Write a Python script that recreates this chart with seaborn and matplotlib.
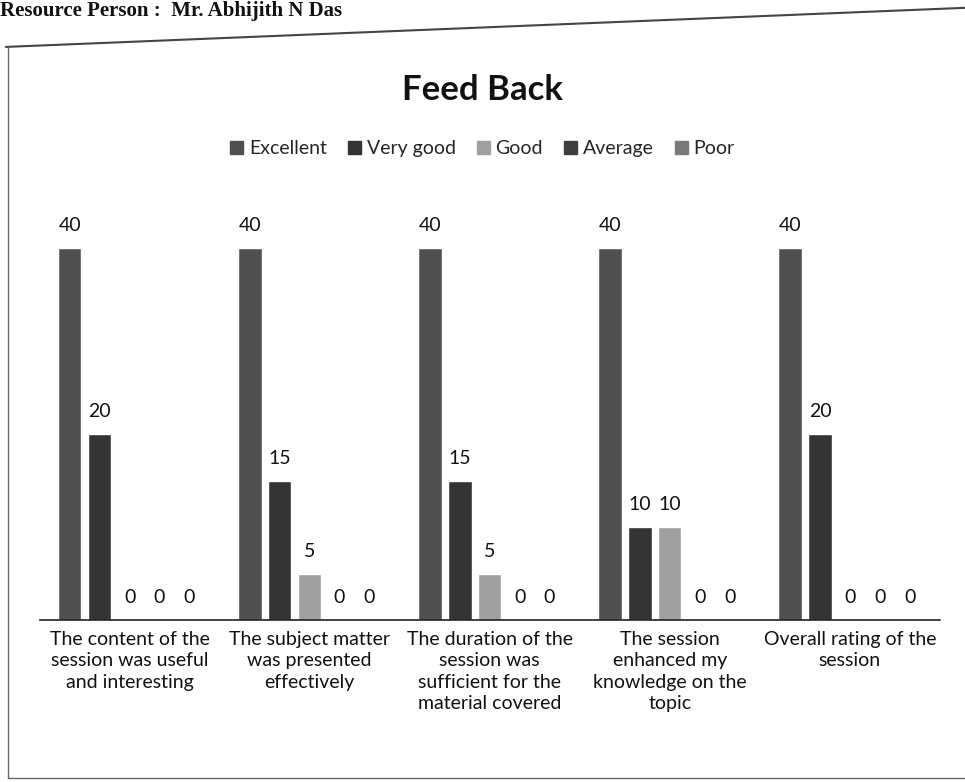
import matplotlib
matplotlib.use("Agg")
import matplotlib.pyplot as plt
from matplotlib.lines import Line2D
import pandas as pd
import seaborn as sns

# ---------------------------------------------------------------------
# Data
# ---------------------------------------------------------------------
categories = [
    "The content of the\nsession was useful\nand interesting",
    "The subject matter\nwas presented\neffectively",
    "The duration of the\nsession was\nsufficient for the\nmaterial covered",
    "The session\nenhanced my\nknowledge on the\ntopic",
    "Overall rating of the\nsession",
]
ratings = ["Excellent", "Very good", "Good", "Average", "Poor"]
excellent = [40, 40, 40, 40, 40]
very_good = [20, 15, 15, 10, 20]
good = [0, 5, 5, 10, 0]
average = [0, 0, 0, 0, 0]
poor = [0, 0, 0, 0, 0]

colors = ["#505050", "#343434", "#a0a0a0", "#3e3e3e", "#7a7a7a"]

rows = []
for vals, name in zip([excellent, very_good, good, average, poor], ratings):
    for cat, v in zip(categories, vals):
        rows.append({"Question": cat, "Rating": name, "Count": v})
df = pd.DataFrame(rows)

sns.set_theme(style="white")
plt.rcParams["font.family"] = ["Lato", "DejaVu Sans"]

fig = plt.figure(figsize=(9.65, 7.82), dpi=100)
ax = fig.add_axes([0.041, 0.207, 0.933, 0.523])

sns.barplot(
    data=df,
    x="Question",
    y="Count",
    hue="Rating",
    hue_order=ratings,
    palette=colors,
    width=0.83,
    gap=0.22,
    saturation=1,
    legend=False,
    ax=ax,
)

for cont in ax.containers:
    ax.bar_label(cont, fmt="%g", padding=10, fontsize=14, color="#111111")

ax.set_xlim(-0.5, 4.5)
ax.set_ylim(0, 44)
ax.set_xlabel("")
ax.set_ylabel("")
ax.set_yticks([])
ax.tick_params(axis="x", length=0, pad=8, labelsize=14, colors="#111111")
for lbl in ax.get_xticklabels():
    lbl.set_linespacing(1.3)
for side in ["left", "right", "top"]:
    ax.spines[side].set_visible(False)
ax.spines["bottom"].set_color("#222222")
ax.spines["bottom"].set_linewidth(1.2)

# Title and legend
fig.text(0.5, 0.885, "Feed Back", ha="center", va="center",
         fontsize=25, fontweight="bold", color="#111111")
handles = [plt.Rectangle((0, 0), 1, 1, color=c) for c in colors]
fig.legend(handles, ratings, loc="center", bbox_to_anchor=(0.5, 0.81),
           ncol=5, frameon=False, fontsize=14, handlelength=0.65,
           handleheight=0.65, handletextpad=0.3, columnspacing=1.1)

# Scan header and the page border around the chart
fig.text(0.0, 0.999, "Resource Person :  Mr. Abhijith N Das", ha="left", va="top",
         fontsize=15, fontweight="bold", family="Liberation Serif", color="#111111")
fig.add_artist(Line2D([0.006, 1.0], [0.94, 0.99], color="#444444", lw=1.5))
fig.add_artist(Line2D([0.008, 0.008], [0.94, 0.005], color="#666666", lw=1.0))
fig.add_artist(Line2D([0.008, 1.0], [0.005, 0.005], color="#666666", lw=1.0))

fig.savefig("out.png", dpi=100)
